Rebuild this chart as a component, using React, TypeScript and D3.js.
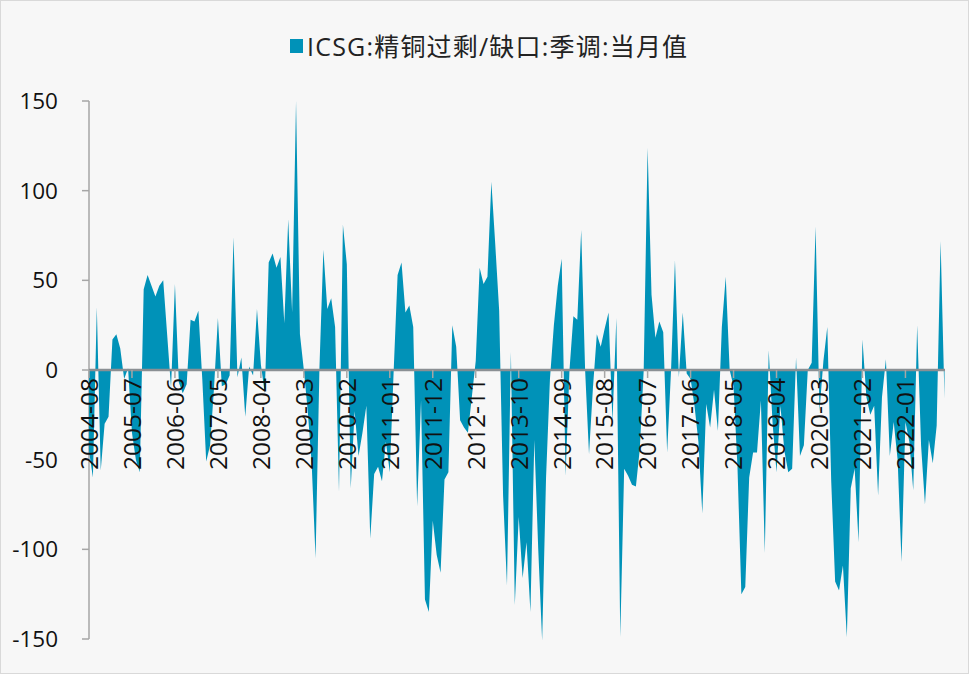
import React from "react";
import * as d3 from "d3";

const startYear = 2004;
const startMonth = 8;
const values: number[] = [
  -45, -60, 35, -56, -30, -26, 17, 20, 12, -5, 1, -35, -50, -57, 45, 53, 47, 41, 47, 50,
  20, -10, 48, -7, -13, -8, 28, 27, 33, -5, -51, -42, -10, 29, -9, -8, -3, 74, -4, 7,
  -26, 2, -3, 34, 3, -13, 60, 65, 57, 63, 26, 84, 32, 150, 20, 0, -23, -52, -105, 2,
  67, 34, 40, 24, -68, 81, 59, -66, -23, -48, -35, -20, -94, -58, -54, -62, -40, -57, 0, 53,
  60, 32, 36, 24, -76, -17, -128, -135, -84, -103, -113, -61, -57, 25, 13, -28, -32, -35, -15, 5,
  57, 48, 52, 105, 70, 33, -70, -120, 10, -131, -82, -116, -96, -135, -39, -100, -151, -60, -5, 25,
  47, 62, -59, 0, 30, 28, 78, 0, -47, -10, 20, 13, 23, 32, -29, 29, -149, -55, -59, -64,
  -65, -44, 0, 124, 42, 18, 27, 21, -46, 0, 61, -4, 32, -2, -5, -20, -40, -80, -19, -32,
  -11, -34, 24, 52, 0, -9, -54, -125, -121, -60, -46, -46, -17, -102, 11, -30, -57, -20, -45, -57,
  -55, 7, -48, -42, 0, 4, 80, -23, 5, 24, -62, -118, -123, -109, -149, -66, -55, -96, 17, -15,
  -25, -20, -70, -15, 6, -48, -29, -50, -107, -29, -40, -67, 25, -42, -75, -39, -52, -31, 72, -16,
];
const categories: string[] = values.map((_, i) => {
  const t = startMonth - 1 + i;
  const y = startYear + Math.floor(t / 12);
  const m = (t % 12) + 1;
  return `${y}-${String(m).padStart(2, "0")}`;
});
const yTicks = [150, 100, 50, 0, -50, -100, -150];
const tickEvery = 11;
const seriesName = "ICSG:精铜过剩/缺口:季调:当月值";

const W = 969;
const H = 674;
const color = "#0092b8";
const font = "'Open Sans', 'Noto Sans CJK SC', sans-serif";

export default function App() {
  const x = d3.scaleLinear().domain([0, values.length - 1]).range([89, 944.5]);
  const y = d3.scaleLinear().domain([-150, 150]).range([639, 101]);
  const area = d3
    .area<number>()
    .x((_, i) => x(i))
    .y0(y(0))
    .y1((d) => y(d))
    .curve(d3.curveLinear);
  const tickIdx = categories.map((_, i) => i).filter((i) => i % tickEvery === 0);
  return (
    <div style={{ position: "fixed", left: 0, top: 0 }}>
      <svg width={W} height={H} style={{ display: "block", fontFamily: font }}>
        <rect x={0} y={0} width={W} height={H} fill="#f7f7f7" />
        <rect x={0.5} y={0.5} width={W - 1} height={H - 1} fill="none" stroke="#d9d9d9" />
        {/* legend */}
        <rect x={290} y={39} width={13} height={14} fill={color} />
        <text x={307} y={56} fontSize={25} letterSpacing={1.2} fill="#222">
          {seriesName}
        </text>
        {/* y axis */}
        <line x1={89} x2={89} y1={y(150)} y2={y(-150)} stroke="#a6a6a6" strokeWidth={1.5} />
        {yTicks.map((t) => (
          <g key={t}>
            <line x1={82} x2={89} y1={y(t)} y2={y(t)} stroke="#a6a6a6" strokeWidth={1.5} />
            <text x={58} y={y(t)} dy="0.35em" textAnchor="end" fontSize={22.5} fill="#111">
              {t}
            </text>
          </g>
        ))}
        <path d={area(values) || ""} fill={color} />
        {/* x axis */}
        <line x1={89} x2={945} y1={y(0)} y2={y(0)} stroke="#8a8f93" strokeWidth={2.5} />
        {tickIdx.map((i) => (
          <g key={i}>
            <line x1={x(i)} x2={x(i)} y1={y(0)} y2={y(0) + 8} stroke="#a6a6a6" strokeWidth={1.5} />
            <text
              transform={`translate(${x(i)},${y(0) + 8}) rotate(-90)`}
              dy="0.36em"
              textAnchor="end"
              fontSize={24.5}
              fill="#111"
            >
              {categories[i]}
            </text>
          </g>
        ))}
      </svg>
    </div>
  );
}
